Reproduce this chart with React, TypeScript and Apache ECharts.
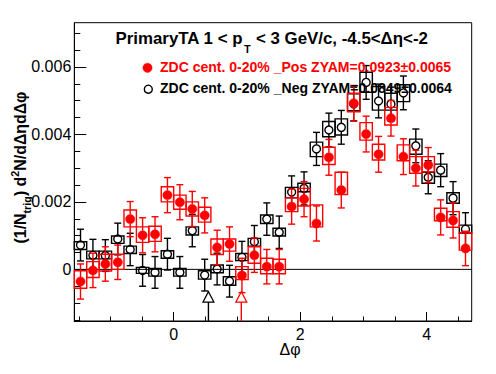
import React, { useEffect, useRef } from "react";
import * as echarts from "echarts";

// ---------- data (values in units of 1e-3) ----------
const nBins = 32;
const phiMin = -Math.PI / 2;
const phiMax = (3 * Math.PI) / 2;
const binWidth = (phiMax - phiMin) / nBins;
const unit = 1e-3;

const negValues = [0.72, 0.42, 0.41, 0.9, 0.59, -0.03, -0.09, 0.45, -0.09, 1.15, -0.17, 0.01, -0.35, 0.36, 0.82, 1.49, 1.1, 2.29, 2.4, 3.57, 4.13, 4.21, 4.9, 5.54, 4.99, 4.9, 5.23, 3.66, 2.73, 2.94, 2.11, 1.19];
const negStat = [0.47, 0.47, 0.47, 0.47, 0.48, 0.47, 0.47, 0.47, 0.47, 0.48, 0.47, 0.47, 0.47, 0.47, 0.48, 0.48, 0.48, 0.48, 0.49, 0.49, 0.5, 0.5, 0.5, 0.5, 0.5, 0.5, 0.5, 0.5, 0.49, 0.49, 0.49, 0.49];
const negBoxLo = [0.59, 0.31, 0.31, 0.77, 0.47, -0.12, -0.2, 0.33, -0.2, 1.02, -0.29, -0.1, -0.47, 0.26, 0.69, 1.36, 0.99, 2.12, 2.3, 3.34, 3.93, 3.98, 4.7, 5.25, 4.72, 4.72, 4.97, 3.41, 2.55, 2.75, 1.96, 1.07];
const negBoxHi = [0.82, 0.54, 0.54, 0.99, 0.69, 0.06, 0.03, 0.55, 0.03, 1.26, -0.04, 0.13, -0.22, 0.47, 0.92, 1.61, 1.22, 2.43, 2.55, 3.77, 4.38, 4.46, 5.2, 5.84, 5.42, 5.22, 5.47, 3.86, 2.88, 3.12, 2.27, 1.31];

const posValues = [-0.36, -0.03, 0.16, 0.21, 1.49, 1.01, 1.04, 2.2, 1.99, 1.79, 1.6, 0.65, 0.75, -0.18, 0.42, 0.08, 0.08, 1.86, 2.08, 1.36, 3.32, 2.35, 4.92, 4.01, 3.41, 4.48, 3.34, 3.0, 3.09, 1.54, 1.45, 0.62];
const posStat = [0.52, 0.51, 0.51, 0.51, 0.52, 0.52, 0.52, 0.52, 0.52, 0.52, 0.52, 0.51, 0.51, 0.51, 0.51, 0.51, 0.51, 0.52, 0.52, 0.52, 0.53, 0.53, 0.53, 0.53, 0.53, 0.53, 0.53, 0.53, 0.52, 0.52, 0.52, 0.51];
const posBoxLo = [-0.56, -0.24, -0.05, 0.0, 1.26, 0.8, 0.83, 2.0, 1.78, 1.58, 1.4, 0.44, 0.54, -0.3, 0.18, -0.13, -0.13, 1.71, 1.88, 1.26, 3.11, 2.22, 4.67, 3.83, 3.24, 4.28, 3.22, 2.85, 2.89, 1.44, 1.25, 0.57];
const posBoxHi = [-0.04, 0.23, 0.45, 0.45, 1.76, 1.26, 1.28, 2.45, 2.2, 2.0, 1.84, 0.9, 0.9, 0.08, 0.67, 0.33, 0.3, 2.12, 2.4, 1.91, 3.62, 2.88, 5.22, 4.35, 3.71, 4.8, 3.69, 3.34, 3.34, 1.81, 1.71, 1.08];

// ZYAM minimum position arrows (x in Δφ, head position in 1e-3)
const zyamNegX = [0.55];
const zyamPosX = [1.07];
const zyamHeadY = -0.66;
const zyamBaseY = -0.97;

const xMajorTicks = [0, 2, 4];
const xMinorTicks = [-1.5, -1, -0.5, 0.5, 1, 1.5, 2.5, 3, 3.5, 4.5];
const yMajorTicks = [0, 0.002, 0.004, 0.006];
const yTickLabels = ["0", "0.002", "0.004", "0.006"];
const yMinorTicks = [-0.0015, -0.001, -0.0005, 0.0005, 0.001, 0.0015, 0.0025, 0.003, 0.0035, 0.0045, 0.005, 0.0055, 0.0065, 0.007];
const yMin = -0.00153;
const yMax = 0.00731;

const titleMain1 = "PrimaryTA 1 < p";
const titleSub = "T";
const titleMain2 = " < 3 GeV/c, -4.5<\u0394\u03b7<-2";
const posLabel = "ZDC cent. 0-20% _Pos ZYAM=0.0923\u00b10.0065";
const negLabel = "ZDC cent. 0-20% _Neg ZYAM=0.0849\u00b10.0064";
const xTitle = "\u0394\u03c6";

const FONT = '"Liberation Sans", Arial, Helvetica, sans-serif';
const RED = "#ff0000";
const BLACK = "#000000";
const CENTRAL = 0.35; // alphabetic baseline sits ~0.35em below the central line

function buildData(vals: number[], stat: number[], lo: number[], hi: number[]) {
  return vals.map((v, i) => [
    phiMin + (i + 0.5) * binWidth,
    v * unit,
    stat[i] * unit,
    lo[i] * unit,
    hi[i] * unit,
  ]);
}

function makeRender(color: string, filled: boolean) {
  return (params: any, api: any) => {
    const x = api.value(0);
    const y = api.value(1);
    const e = api.value(2);
    const lo = api.value(3);
    const hi = api.value(4);
    const half = api.size([binWidth, 0])[0] / 2;
    const c = api.coord([x, y]);
    const t = api.coord([x, y + e]);
    const b = api.coord([x, y - e]);
    const bh = api.coord([x, hi]);
    const bl = api.coord([x, lo]);
    const r = filled ? 4.6 : 4.0;
    const lw = 1.4;
    const cap = 3.5;
    const children: any[] = [
      {
        type: "rect",
        shape: { x: c[0] - half, y: bh[1], width: 2 * half, height: bl[1] - bh[1] },
        style: { fill: "none", stroke: color, lineWidth: lw },
      },
      {
        type: "line",
        shape: { x1: c[0], y1: t[1], x2: c[0], y2: c[1] - r },
        style: { stroke: color, lineWidth: lw },
      },
      {
        type: "line",
        shape: { x1: c[0], y1: c[1] + r, x2: c[0], y2: b[1] },
        style: { stroke: color, lineWidth: lw },
      },
      {
        type: "line",
        shape: { x1: c[0] - cap, y1: t[1], x2: c[0] + cap, y2: t[1] },
        style: { stroke: color, lineWidth: lw },
      },
      {
        type: "line",
        shape: { x1: c[0] - cap, y1: b[1], x2: c[0] + cap, y2: b[1] },
        style: { stroke: color, lineWidth: lw },
      },
      {
        type: "circle",
        shape: { cx: c[0], cy: c[1], r },
        style: filled
          ? { fill: color, stroke: color, lineWidth: 0.5 }
          : { fill: "none", stroke: color, lineWidth: 1.4 },
      },
    ];
    return { type: "group", children };
  };
}

function makeArrowRender(color: string) {
  return (params: any, api: any) => {
    const x = api.value(0);
    const head = api.coord([x, zyamHeadY * unit]);
    const base = api.coord([x, zyamBaseY * unit]);
    const bottom = api.coord([x, yMin]);
    const hw = 5.5;
    return {
      type: "group",
      children: [
        {
          type: "line",
          shape: { x1: base[0], y1: base[1], x2: bottom[0], y2: bottom[1] },
          style: { stroke: color, lineWidth: 1.4 },
        },
        {
          type: "polygon",
          shape: { points: [[head[0], head[1]], [base[0] - hw, base[1]], [base[0] + hw, base[1]]] },
          style: { fill: "#ffffff", stroke: color, lineWidth: 1.2 },
        },
      ],
    };
  };
}

function measure(text: string, font: string) {
  const cv = document.createElement("canvas");
  const ctx = cv.getContext("2d")!;
  ctx.font = font;
  return ctx.measureText(text).width;
}

// text whose alphabetic baseline sits at y
function baselineText(text: string, x: number, y: number, size: number, bold: boolean, fill: string, align = "left") {
  return {
    type: "text",
    x,
    y: y - CENTRAL * size,
    z: 100,
    style: {
      text,
      font: `${bold ? "bold " : ""}${size}px ${FONT}`,
      fill,
      textAlign: align,
      textVerticalAlign: "middle",
    },
  };
}

export default function App() {
  const ref = useRef<HTMLDivElement>(null);

  useEffect(() => {
    if (!ref.current) return;
    const chart = echarts.init(ref.current, undefined, { renderer: "svg" });

    const gridLeft = 74.3;
    const gridTop = 22.7;
    const gridRight = 471.7;
    const gridBottom = 321;

    // ---- title: fit to measured extent 115..428 ----
    const fitW = (base: number, target: number, parts: { t: string; k: number }[]) => {
      const w = parts.reduce((s, p) => s + measure(p.t, `bold ${base * p.k}px ${FONT}`), 0);
      return (base * target) / w;
    };
    const tSize = fitW(17, 311, [
      { t: titleMain1, k: 1 },
      { t: titleSub, k: 0.65 },
      { t: titleMain2, k: 1 },
    ]);
    const tSubSize = tSize * 0.65;
    const w1 = measure(titleMain1, `bold ${tSize}px ${FONT}`);
    const ws = measure(titleSub, `bold ${tSubSize}px ${FONT}`);
    const tStart = 115.5;
    const tBase = 44;

    // ---- legend text sizes fitted to 160..452 ----
    const legSize = (13.5 * 291.5) / measure(posLabel, `bold 13.5px ${FONT}`);

    // ---- y title ----
    const yParts = [
      { t: "(1/N", k: 1, dy: 0 },
      { t: "trig", k: 0.68, dy: 5 },
      { t: ") d", k: 1, dy: 0 },
      { t: "2", k: 0.68, dy: -7 },
      { t: "N/d\u0394\u03b7d\u0394\u03c6", k: 1, dy: 0 },
    ];
    const ySize = Math.min(16, fitW(16, 152, yParts));
    let acc = 0;
    const yTexts = yParts.map((p) => {
      const s = ySize * p.k;
      const w = measure(p.t, `bold ${s}px ${FONT}`);
      const el = {
        type: "text",
        x: acc,
        y: p.dy - CENTRAL * s,
        style: {
          text: p.t,
          font: `bold ${s}px ${FONT}`,
          fill: BLACK,
          textAlign: "left",
          textVerticalAlign: "middle",
        },
      };
      acc += w;
      return el;
    });
    const yTitleLen = acc;
    const yTitleCenter = 167.5;
    const yTitleBaselineX = 26;

    const option: any = {
      animation: false,
      grid: {
        left: gridLeft,
        top: gridTop,
        width: gridRight - gridLeft,
        height: gridBottom - gridTop,
        show: true,
        borderColor: BLACK,
        borderWidth: 1,
        backgroundColor: "transparent",
      },
      xAxis: [
        {
          type: "value",
          min: phiMin,
          max: phiMax,
          position: "bottom",
          axisLine: { show: true, onZero: false, lineStyle: { color: BLACK, width: 1 } },
          axisTick: { show: true, inside: true, length: 9, customValues: xMajorTicks, lineStyle: { color: BLACK, width: 1 } },
          axisLabel: {
            show: true,
            customValues: xMajorTicks,
            margin: 5,
            fontSize: 16,
            fontFamily: FONT,
            color: BLACK,
            formatter: (v: number) => String(Math.round(v)),
          },
          splitLine: { show: false },
        },
        {
          type: "value",
          min: phiMin,
          max: phiMax,
          position: "bottom",
          axisLine: { show: false, onZero: false },
          axisTick: { show: true, inside: true, length: 4.5, customValues: xMinorTicks, lineStyle: { color: BLACK, width: 1 } },
          axisLabel: { show: false },
          splitLine: { show: false },
        },
      ],
      yAxis: [
        {
          type: "value",
          min: yMin,
          max: yMax,
          position: "left",
          axisLine: { show: true, onZero: false, lineStyle: { color: BLACK, width: 1 } },
          axisTick: { show: true, inside: true, length: 12, customValues: yMajorTicks, lineStyle: { color: BLACK, width: 1 } },
          axisLabel: {
            show: true,
            customValues: yMajorTicks,
            margin: 3,
            fontSize: 16,
            fontFamily: FONT,
            color: BLACK,
            formatter: (v: number) => {
              const i = yMajorTicks.findIndex((m) => Math.abs(m - v) < 1e-9);
              return i >= 0 ? yTickLabels[i] : "";
            },
          },
          splitLine: { show: false },
        },
        {
          type: "value",
          min: yMin,
          max: yMax,
          position: "left",
          axisLine: { show: false, onZero: false },
          axisTick: { show: true, inside: true, length: 6, customValues: yMinorTicks, lineStyle: { color: BLACK, width: 1 } },
          axisLabel: { show: false },
          splitLine: { show: false },
        },
      ],
      series: [
        {
          type: "line",
          data: [
            [phiMin, 0],
            [phiMax, 0],
          ],
          symbol: "none",
          lineStyle: { color: BLACK, width: 1 },
          silent: true,
          z: 1,
        },
        {
          name: "Neg",
          type: "custom",
          renderItem: makeRender(BLACK, false),
          data: buildData(negValues, negStat, negBoxLo, negBoxHi),
          z: 2,
        },
        {
          name: "Pos",
          type: "custom",
          renderItem: makeRender(RED, true),
          data: buildData(posValues, posStat, posBoxLo, posBoxHi),
          z: 3,
        },
        {
          type: "custom",
          renderItem: makeArrowRender(BLACK),
          data: zyamNegX.map((x) => [x]),
          z: 4,
        },
        {
          type: "custom",
          renderItem: makeArrowRender(RED),
          data: zyamPosX.map((x) => [x]),
          z: 4,
        },
      ],
      graphic: [
        baselineText(titleMain1, tStart, tBase, tSize, true, BLACK),
        baselineText(titleSub, tStart + w1 + 1, tBase + 8.5, tSubSize, true, BLACK),
        baselineText(titleMain2, tStart + w1 + ws + 1.5, tBase, tSize, true, BLACK),
        {
          type: "circle",
          z: 100,
          shape: { cx: 147.5, cy: 67.8, r: 4.6 },
          style: { fill: RED, stroke: RED, lineWidth: 0.5 },
        },
        baselineText(posLabel, 160, 72.4, legSize, true, RED),
        {
          type: "circle",
          z: 100,
          shape: { cx: 148.3, cy: 89.2, r: 4.0 },
          style: { fill: "none", stroke: BLACK, lineWidth: 1.4 },
        },
        baselineText(negLabel, 160, 92.8, legSize, true, BLACK),
        baselineText(xTitle, 290, 355, 16, false, BLACK, "center"),
        {
          type: "group",
          z: 100,
          x: yTitleBaselineX,
          y: yTitleCenter + yTitleLen / 2,
          rotation: Math.PI / 2,
          children: yTexts,
        },
      ],
    };

    chart.setOption(option);
    return () => chart.dispose();
  }, []);

  return (
    <div
      ref={ref}
      style={{ position: "absolute", left: 0, top: 0, width: 496, height: 374, background: "#ffffff" }}
    />
  );
}
